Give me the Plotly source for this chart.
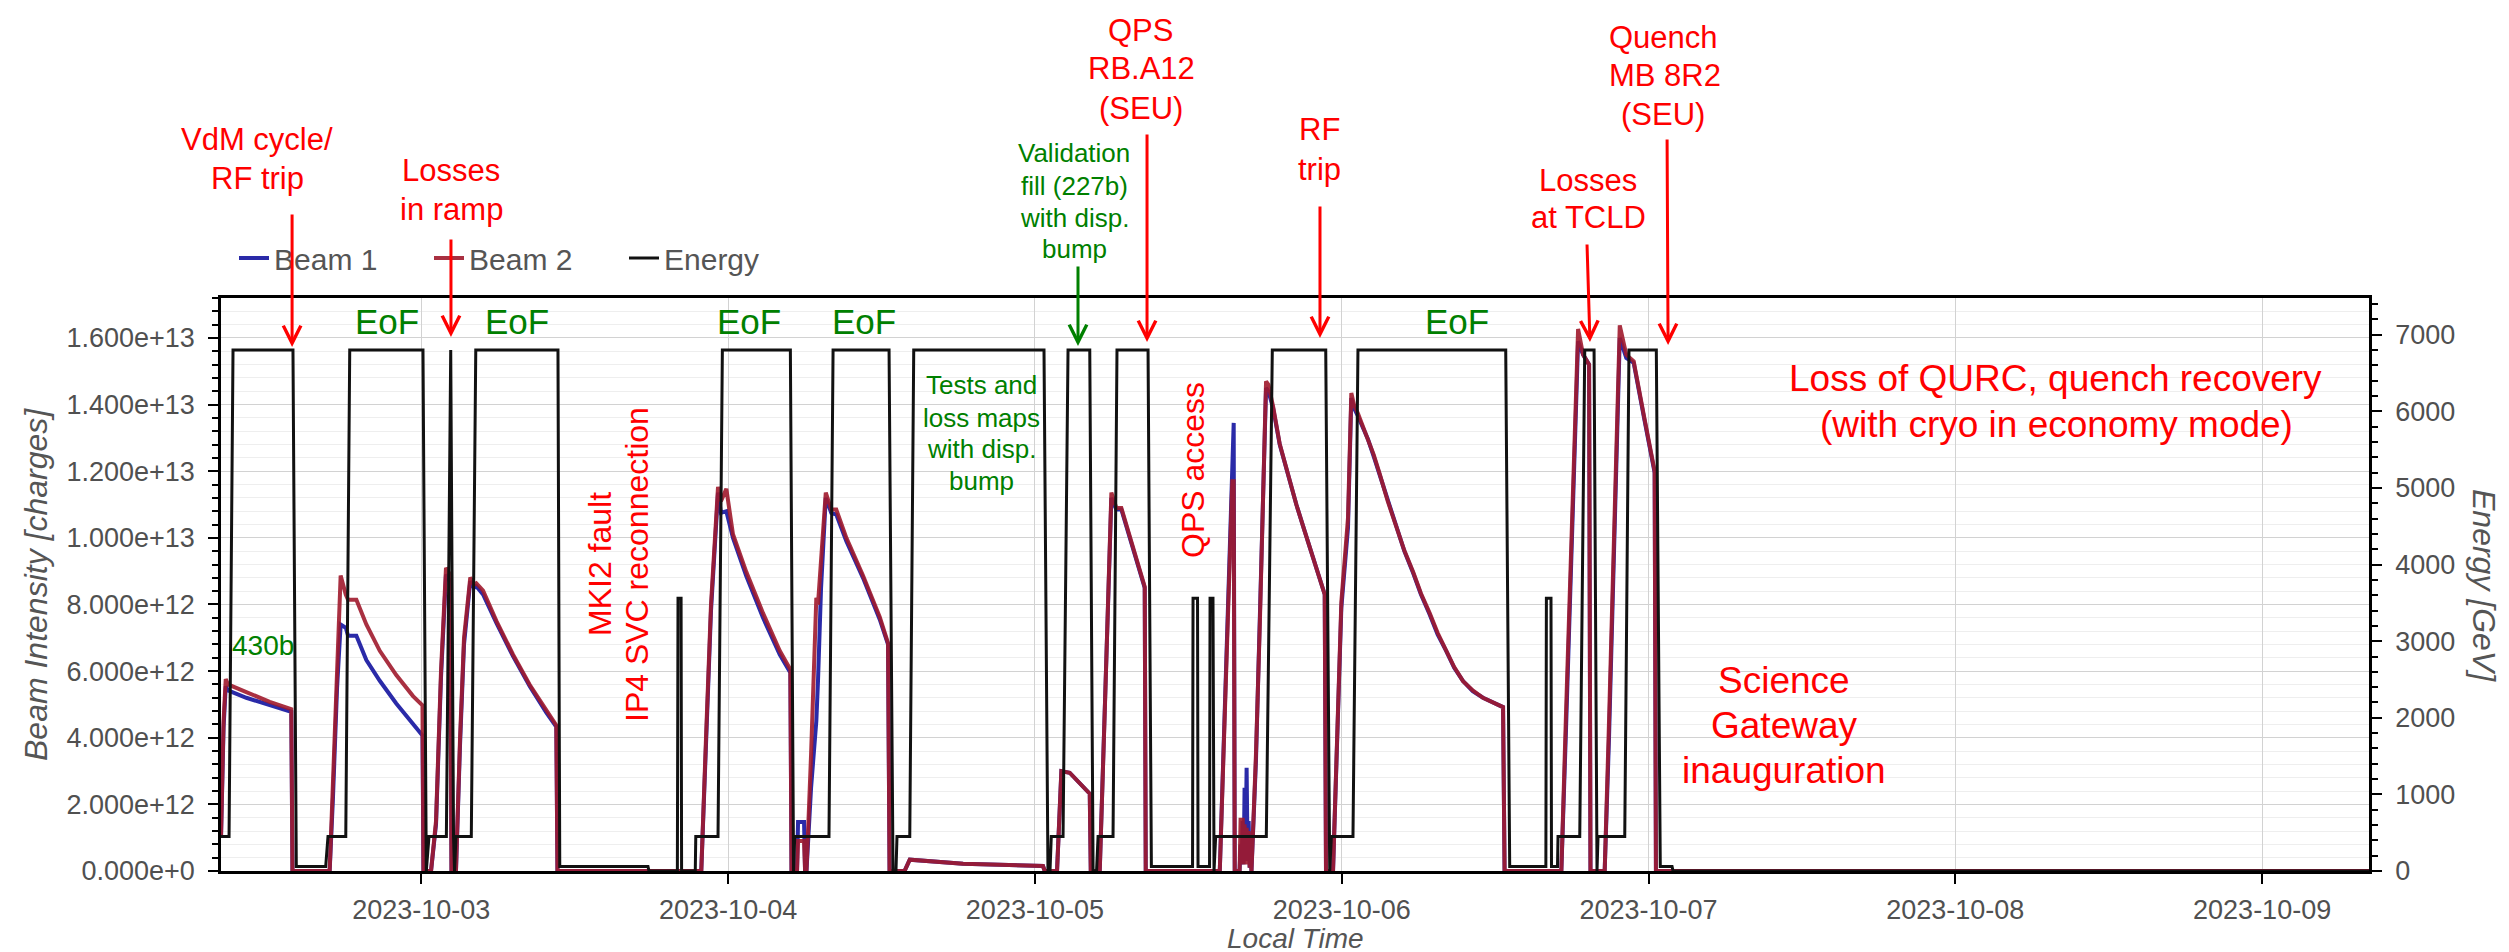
import plotly.graph_objects as go
import pandas as pd

# ---------------- data ----------------
T0 = pd.Timestamp("2023-10-02 00:00")  # times below are hours after this instant (local time)

energy_hours = [8.33, 8.96, 9.27, 13.96, 14.22, 16.52, 16.70, 18.09, 18.40, 24.13,
                24.39, 24.60, 25.96, 26.30, 26.52, 26.60, 26.71, 27.91, 28.26, 34.69,
                34.83, 41.73, 41.81, 44.03, 44.08, 44.32, 44.36, 45.43, 45.47, 47.21,
                47.55, 52.87, 53.12, 53.21, 55.89, 56.21, 60.59, 60.90, 61.13, 61.21,
                62.21, 62.52, 72.71, 73.02, 73.18, 73.28, 74.20, 74.59, 76.29, 76.55,
                76.82, 76.94, 78.11, 78.42, 80.85, 81.11, 84.33, 84.37, 84.72, 84.76,
                85.66, 85.70, 85.93, 86.01, 86.14, 90.10, 90.57, 94.75, 95.06, 95.19,
                96.88, 97.27, 108.83, 109.14, 111.97, 112.01, 112.37, 112.41, 112.88, 112.92,
                114.62, 115.01, 115.74, 115.97, 116.05, 118.14, 118.47, 120.61, 120.92, 121.84,
                121.92, 176.36]
energy_gev = [450, 450, 6800, 6800, 60, 60, 450, 450, 6800, 6800,
              0, 450, 450, 6800, 450, 0, 450, 450, 6800, 6800,
              60, 60, 0, 0, 3560, 3560, 0, 0, 450, 450,
              6800, 6800, 0, 450, 450, 6800, 6800, 0, 0, 450,
              450, 6800, 6800, 0, 0, 450, 450, 6800, 6800, 0,
              0, 450, 450, 6800, 6800, 60, 60, 3560, 3560, 60,
              60, 3560, 3560, 0, 450, 450, 6800, 6800, 0, 450,
              450, 6800, 6800, 60, 60, 3560, 3560, 60, 60, 450,
              450, 6800, 6800, 0, 450, 450, 6800, 6800, 60, 60,
              0, 0]

beam_hours = [8.33, 8.53, 8.70, 8.88, 10.31, 12.14, 13.83, 13.92,
              16.83, 17.09, 17.41, 17.69, 18.09, 18.27, 18.92, 19.70, 20.75, 22.04, 23.35, 24.09, 24.17,
              24.76, 25.15, 25.54, 25.93, 26.25, 26.36,
              26.71, 27.03, 27.34, 27.83, 28.12, 28.30, 28.83, 29.87, 31.17, 32.48, 33.78, 34.56, 34.65,
              45.90, 46.27, 46.66, 47.21, 47.44, 47.86, 48.38, 49.42, 50.73, 52.04, 52.87, 52.96,
              53.39, 53.47, 53.94, 54.02, 54.13, 54.49, 54.90, 55.03, 55.27, 55.64, 56.07, 56.46, 57.25,
              58.55, 59.86, 60.51, 60.63,
              61.80, 62.21, 66.38, 72.63, 72.77,
              73.73, 74.07, 74.72, 76.29, 76.37,
              77.07, 77.48, 77.80, 77.98, 78.37, 78.76, 80.59, 80.67,
              86.46, 86.95, 87.26, 87.44, 87.55, 87.63,
              88.01, 88.09, 88.17, 88.25, 88.33, 88.40, 88.48, 88.56, 88.64, 88.72, 88.80, 88.87, 88.94,
              89.29, 89.60, 89.90, 90.08, 90.26, 90.63, 91.15, 91.80, 92.45, 93.10, 93.76, 94.67, 94.77,
              95.32, 95.97, 96.49, 96.75, 96.96, 97.27, 97.65, 98.06, 98.50, 98.97, 99.60, 100.27, 100.90,
              101.58, 102.20, 102.88, 103.50, 104.18, 104.80, 105.49, 106.25, 107.05, 107.85, 108.62, 108.74,
              113.18, 113.55, 113.94, 114.25, 114.49, 114.88, 115.35, 115.46,
              116.57, 116.91, 117.30, 117.58, 117.75, 118.26, 118.65, 118.84, 119.65, 120.48, 120.58,
              176.36]
# intensities in units of 1e12 charges
beam1_e12 = [1.0, 4.3, 5.54, 5.42, 5.2, 4.97, 4.78, 0,
             0, 2.2, 5.5, 7.4, 7.3, 7.06, 7.06, 6.33, 5.71, 5.03, 4.41, 4.07, 0,
             0, 1.4, 5.8, 8.9, 8.7, 0,
             0, 3.8, 6.8, 8.7, 8.5, 8.55, 8.3, 7.45, 6.45, 5.55, 4.75, 4.33, 0,
             0, 3.9, 7.8, 11.36, 10.75, 10.8, 10.0, 8.85, 7.6, 6.5, 5.95, 0,
             0, 1.47, 1.47, 0, 0, 2.5, 4.5, 5.7, 8.5, 11.2, 10.75, 10.7, 9.9,
             8.8, 7.55, 6.8, 0,
             0, 0.34, 0.22, 0.15, 0,
             0, 3.0, 2.95, 2.32, 0,
             0, 4.8, 8.8, 11.2, 10.85, 10.85, 8.5, 0,
             0, 6.2, 10.5, 12.5, 13.45, 0,
             0, 0.8, 0.2, 1.5, 0.2, 2.5, 0.5, 3.1, 0.3, 1.5, 0.1, 0.5, 0,
             3.3, 7.3, 11.3, 14.5, 14.4, 13.9, 12.8, 11.85, 11.0, 10.2, 9.4, 8.3, 0,
             0, 7.9, 10.3, 14.2, 13.9, 13.65, 13.3, 12.95, 12.45, 11.9, 11.1, 10.3, 9.6,
             8.95, 8.3, 7.7, 7.1, 6.6, 6.1, 5.7, 5.4, 5.2, 5.05, 4.92, 0,
             0, 4.3, 9.0, 13.0, 15.9, 15.5, 15.2, 0,
             0, 4.0, 9.3, 13.0, 16.0, 15.4, 15.3, 15.25, 13.6, 11.95, 0,
             0]
beam2_e12 = [1.0, 4.5, 5.76, 5.6, 5.37, 5.08, 4.86, 0,
             0, 2.5, 6.0, 8.87, 8.3, 8.14, 8.14, 7.4, 6.61, 5.88, 5.25, 4.97, 0,
             0, 1.5, 6.0, 9.1, 8.9, 0,
             0, 4.0, 7.0, 8.81, 8.6, 8.64, 8.42, 7.51, 6.5, 5.59, 4.8, 4.37, 0,
             0, 4.0, 8.0, 11.53, 11.1, 11.47, 10.11, 8.98, 7.74, 6.61, 6.05, 0,
             0, 0.9, 0.9, 0, 0, 3.5, 8.2, 8.0, 9.5, 11.36, 10.85, 10.85, 10.0,
             8.87, 7.63, 6.84, 0,
             0, 0.34, 0.22, 0.15, 0,
             0, 3.0, 2.95, 2.32, 0,
             0, 5.0, 9.0, 11.36, 10.9, 10.9, 8.53, 0,
             0, 6.0, 10.0, 11.7, 11.7, 0,
             0, 1.6, 0.2, 1.6, 0.2, 1.4, 0.2, 1.3, 0.2, 1.2, 0.1, 0.8, 0,
             3.5, 7.5, 11.5, 14.7, 14.6, 13.95, 12.82, 11.87, 11.0, 10.2, 9.43, 8.3, 0,
             0, 8.08, 10.6, 14.35, 14.0, 13.73, 13.35, 13.0, 12.5, 11.92, 11.1, 10.34, 9.62,
             8.98, 8.33, 7.74, 7.15, 6.61, 6.12, 5.7, 5.42, 5.2, 5.05, 4.92, 0,
             0, 4.8, 9.8, 13.5, 16.27, 15.5, 15.2, 0,
             0, 4.5, 10.0, 13.8, 16.38, 15.5, 15.37, 15.3, 13.65, 12.0, 0,
             0]

left_tick_values = [0, 2e12, 4e12, 6e12, 8e12, 1e13, 1.2e13, 1.4e13, 1.6e13]
left_tick_labels = ["0.000e+0", "2.000e+12", "4.000e+12", "6.000e+12", "8.000e+12",
                    "1.000e+13", "1.200e+13", "1.400e+13", "1.600e+13"]
right_tick_values = [0, 1000, 2000, 3000, 4000, 5000, 6000, 7000]
right_tick_labels = ["0", "1000", "2000", "3000", "4000", "5000", "6000", "7000"]
date_tick_labels = ["2023-10-03", "2023-10-04", "2023-10-05", "2023-10-06",
                    "2023-10-07", "2023-10-08", "2023-10-09"]
x_range_hours = [8.33, 176.36]

# event arrows: hours of the event each arrow points at
arrow_hours = [13.89, 26.32, 75.37, 80.77, 94.30, 115.42, 121.53]

# ---------------- figure ----------------
FONT = "Liberation Sans, Arial, sans-serif"
RED = "#ff0000"
GREEN = "#008000"
L, R, T, B = 213, 2361, 290, 863   # plot area in pixels


def px(x):
    return (x - L) / (R - L)


def py(y):
    return (B - y) / (B - T)


def to_time(hours):
    return [T0 + pd.Timedelta(hours=h) for h in hours]


beam_t = to_time(beam_hours)
fig = go.Figure()
fig.add_trace(go.Scatter(x=beam_t, y=[v * 1e12 for v in beam1_e12], name="Beam 1",
                         mode="lines", line=dict(color="#2a2aa8", width=4)))
fig.add_trace(go.Scatter(x=beam_t, y=[v * 1e12 for v in beam2_e12], name="Beam 2",
                         mode="lines", line=dict(color="rgba(160,26,44,0.9)", width=4)))
fig.add_trace(go.Scatter(x=to_time(energy_hours), y=energy_gev, name="Energy", yaxis="y2",
                         mode="lines", line=dict(color="#111111", width=3)))

tickfont = dict(family=FONT, size=27, color="#505050")
fig.update_layout(
    width=2509, height=952,
    margin=dict(l=L, r=2509 - R, t=T, b=952 - B),
    paper_bgcolor="white", plot_bgcolor="white",
    font=dict(family=FONT),
    showlegend=True,
    legend=dict(orientation="h", x=px(226), y=py(250), xanchor="left", yanchor="middle",
                font=dict(family=FONT, size=30, color="#555555"), bgcolor="rgba(0,0,0,0)",
                entrywidth=150, entrywidthmode="pixels", traceorder="normal"),
    xaxis=dict(type="date", range=to_time(x_range_hours),
               tickvals=date_tick_labels, ticktext=date_tick_labels,
               ticks="outside", ticklen=10, tickwidth=2, tickcolor="black",
               showline=True, linecolor="black", linewidth=2.5, mirror=True,
               showgrid=True, gridcolor="#d2d2d2", gridwidth=1,
               tickfont=tickfont, ticklabelstandoff=3, zeroline=False),
    yaxis=dict(range=[0, 1.72e13], tickvals=left_tick_values, ticktext=left_tick_labels,
               ticks="outside", ticklen=10, tickwidth=2, tickcolor="black",
               showline=True, linecolor="black", linewidth=2.5,
               showgrid=True, gridcolor="#d2d2d2", gridwidth=1, zeroline=False,
               tickfont=tickfont, ticklabelstandoff=8,
               minor=dict(tickmode="linear", tick0=0, dtick=4e11, ticks="outside", ticklen=6,
                          tickwidth=1.5, tickcolor="black", showgrid=True,
                          gridcolor="#eeeeee", gridwidth=1)),
    yaxis2=dict(range=[0, 7480], overlaying="y", side="right",
                tickvals=right_tick_values, ticktext=right_tick_labels,
                ticks="outside", ticklen=10, tickwidth=2, tickcolor="black",
                showline=True, linecolor="black", linewidth=2.5,
                showgrid=False, zeroline=False, tickfont=tickfont, ticklabelstandoff=8,
                minor=dict(tickmode="linear", tick0=0, dtick=200, ticks="outside", ticklen=6,
                           tickwidth=1.5, tickcolor="black", showgrid=False)),
)

# arrows (tip y in px, tail offsets in px)
arrow_specs = [
    (339, 0, -134, RED),
    (329, 0, -99, RED),
    (338, 0, -81, GREEN),
    (334, 0, -209, RED),
    (330, 0, -133, RED),
    (334, -3, -99, RED),
    (337, -1, -207, RED),
]
for h, (ytip, ax, ay, col) in zip(arrow_hours, arrow_specs):
    fig.add_annotation(x=T0 + pd.Timedelta(hours=h), xref="x", y=py(ytip), yref="paper",
                       ax=ax, ay=ay, axref="pixel", ayref="pixel", text="",
                       showarrow=True, arrowhead=5, arrowsize=1.15, arrowwidth=3,
                       arrowcolor=col)

# text labels: (text, x px, y px, size, colour, angle)
labels = [
    ("VdM cycle/", 249, 132, 31, RED, 0), ("RF trip", 249, 170, 31, RED, 0),
    ("Losses", 443, 163, 31, RED, 0), ("in ramp", 443, 202, 31, RED, 0),
    ("QPS", 1132, 22, 31, RED, 0), ("RB.A12", 1133, 60, 31, RED, 0), ("(SEU)", 1133, 100, 31, RED, 0),
    ("RF", 1311, 122, 31, RED, 0), ("trip", 1311, 162, 31, RED, 0),
    ("Losses", 1580, 172, 31, RED, 0), ("at TCLD", 1580, 209, 31, RED, 0),
    ("Quench", 1655, 30, 31, RED, 0), ("MB 8R2", 1657, 68, 31, RED, 0), ("(SEU)", 1655, 107, 31, RED, 0),
    ("Validation", 1066, 145, 26, GREEN, 0), ("fill (227b)", 1066, 178, 26, GREEN, 0),
    ("with disp.", 1066, 210, 26, GREEN, 0), ("bump", 1066, 241, 26, GREEN, 0),
    ("Tests and", 973, 377, 26, GREEN, 0), ("loss maps", 973, 410, 26, GREEN, 0),
    ("with disp.", 973, 441, 26, GREEN, 0), ("bump", 973, 473, 26, GREEN, 0),
    ("EoF", 379, 313, 35, GREEN, 0), ("EoF", 509, 313, 35, GREEN, 0),
    ("EoF", 741, 313, 35, GREEN, 0), ("EoF", 856, 313, 35, GREEN, 0),
    ("EoF", 1449, 313, 35, GREEN, 0),
    ("430b", 255, 637, 28, GREEN, 0),
    ("MKI2 fault", 592, 556, 32, RED, -90), ("IP4 SVC reconnection", 629, 557, 32, RED, -90),
    ("QPS access", 1185, 462, 32, RED, -90),
    ("Loss of QURC, quench recovery", 2047, 370, 37, RED, 0),
    ("(with cryo in economy mode)", 2048, 416, 37, RED, 0),
    ("Science", 1776, 672, 37, RED, 0), ("Gateway", 1776, 717, 37, RED, 0),
    ("inauguration", 1776, 762, 37, RED, 0),
    ("<i>Beam Intensity [charges]</i>", 28, 577, 32, "#555555", -90),
    ("<i>Energy [GeV]</i>", 2476, 577, 32, "#555555", 90),
]
for text, x, y, size, col, ang in labels:
    fig.add_annotation(x=px(x), y=py(y), xref="paper", yref="paper", text=text,
                       showarrow=False, textangle=ang, xanchor="center", yanchor="middle",
                       font=dict(family=FONT, size=size, color=col))

# x-axis title, anchored just above the bottom edge of the page
fig.add_annotation(x=px(1287), y=py(947), xref="paper", yref="paper", text="<i>Local Time</i>",
                   showarrow=False, xanchor="center", yanchor="bottom", borderpad=0,
                   font=dict(family=FONT, size=28, color="#555555"))

fig.write_html("out.html")
